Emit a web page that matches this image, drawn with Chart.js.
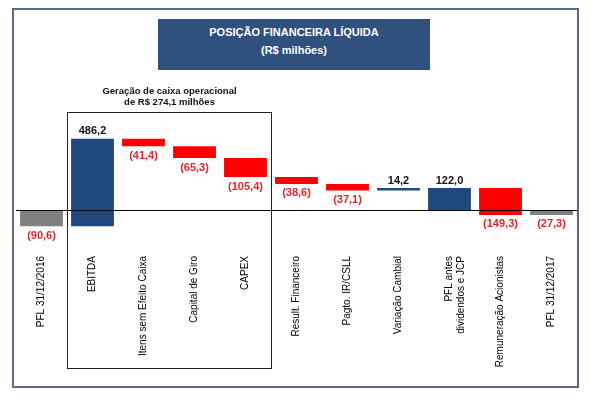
<!DOCTYPE html>
<html lang="pt-BR">
<head>
<meta charset="utf-8">
<title>Posição Financeira Líquida</title>
<script src="https://cdn.jsdelivr.net/npm/chart.js@4.4.1/dist/chart.umd.min.js"></script>
<style>
  html, body { margin: 0; padding: 0; background: #fff; }
  #wrap { position: relative; width: 590px; height: 399px; overflow: hidden; }
  #frame { position: absolute; left: 12px; top: 8px; width: 563px; height: 376px; border: 2px solid #5b6b87; }
  #title {
    position: absolute; left: 158px; top: 19px; width: 272px; height: 51px;
    background: #30507e; color: #fff; text-align: center;
    font: bold 11px "Liberation Sans", Arial, sans-serif;
    padding-top: 4px; box-sizing: border-box; line-height: 18px;
  }
  #chart { position: absolute; left: 0; top: 0; }
</style>
</head>
<body>
<div id="wrap">
  <div id="frame"></div>
  <div id="title">POSIÇÃO FINANCEIRA LÍQUIDA<br>(R$ milhões)</div>
  <canvas id="chart" width="590" height="399"></canvas>
</div>
<script>
// Waterfall of net financial position (R$ millions)
var categories = [
  'PFL 31/12/2016', 'EBITDA', 'Itens sem Efeito Caixa', 'Capital de Giro', 'CAPEX',
  'Result. Financeiro', 'Pagto. IR/CSLL', 'Variação Cambial',
  ['PFL antes', 'dividendos e JCP'], 'Remuneração Acionistas', 'PFL 31/12/2017'
];
var values = [-90.6, 486.2, -41.4, -65.3, -105.4, -38.6, -37.1, 14.2, 122.0, -149.3, -27.3];
var barKinds = ['total', 'up', 'down', 'down', 'down', 'down', 'down', 'up', 'subtotal', 'down', 'total'];
var boxedFrom = 1, boxedTo = 4;   // "geração de caixa" group
var boxNote = ['Geração de caixa operacional', 'de R$ 274,1 milhões'];

var kindColors = { total: '#808080', subtotal: '#1f497d', up: '#1f497d', down: '#ff0000' };
var FONT = '"Liberation Sans", Arial, sans-serif';

// floating [start, end] for each bar
var floats = [];
var running = 0;
values.forEach(function (v, i) {
  if (barKinds[i] === 'total' || barKinds[i] === 'subtotal') {
    floats.push([0, v]);
    running = v;
  } else {
    floats.push([running, running + v]);
    running += v;
  }
});

function fmt(v) {
  var s = Math.abs(v).toFixed(1).replace('.', ',');
  return v < 0 ? '(' + s + ')' : s;
}

var waterfallDecor = {
  id: 'waterfallDecor',
  afterDatasetsDraw: function (chart) {
    var ctx = chart.ctx;
    var x = chart.scales.x, y = chart.scales.y, area = chart.chartArea;
    var meta = chart.getDatasetMeta(0);
    ctx.save();

    // zero line, over the bars
    var y0 = Math.round(y.getPixelForValue(0)) + 0.5;
    ctx.strokeStyle = '#000';
    ctx.lineWidth = 1;
    ctx.beginPath();
    ctx.moveTo(area.left, y0);
    ctx.lineTo(area.right, y0);
    ctx.stroke();

    // value labels
    ctx.font = 'bold 11px ' + FONT;
    ctx.textAlign = 'center';
    meta.data.forEach(function (bar, i) {
      var v = values[i];
      var top = Math.min(bar.y, bar.base), bottom = Math.max(bar.y, bar.base);
      if (v >= 0) {
        ctx.fillStyle = '#111';
        ctx.textBaseline = 'bottom';
        ctx.fillText(fmt(v), bar.x, top - 2);
      } else {
        ctx.fillStyle = '#e0262d';
        ctx.textBaseline = 'top';
        ctx.fillText(fmt(v), bar.x, bottom + 4);
      }
    });

    // box round the operating cash group
    var left = (x.getPixelForValue(boxedFrom - 1) + x.getPixelForValue(boxedFrom)) / 2;
    var right = (x.getPixelForValue(boxedTo) + x.getPixelForValue(boxedTo + 1)) / 2;
    left = Math.round(left) + 0.5;
    right = Math.round(right) + 0.5;
    ctx.strokeStyle = '#222';
    ctx.strokeRect(left, 112.5, right - left, 256);

    ctx.fillStyle = '#111';
    ctx.font = 'bold 9.5px ' + FONT;
    ctx.textBaseline = 'middle';
    ctx.fillText(boxNote[0], (left + right) / 2, 91);
    ctx.fillText(boxNote[1], (left + right) / 2, 102);
    ctx.restore();
  }
};

new Chart(document.getElementById('chart').getContext('2d'), {
  type: 'bar',
  data: {
    labels: categories,
    datasets: [{
      data: floats,
      backgroundColor: barKinds.map(function (k) { return kindColors[k]; }),
      borderWidth: 0,
      barPercentage: 0.84,
      categoryPercentage: 1.0
    }]
  },
  options: {
    responsive: false,
    animation: false,
    layout: { padding: { top: 120, left: 16, right: 13, bottom: 0 } },
    scales: {
      x: {
        grid: { display: false, drawTicks: false },
        border: { display: false },
        ticks: {
          autoSkip: false,
          minRotation: 90,
          maxRotation: 90,
          padding: 6,
          color: '#000',
          font: { family: FONT, size: 10 }
        },
        afterFit: function (scale) { scale.height = 149; }
      },
      y: { display: false, min: -222, max: 500 }
    },
    plugins: {
      legend: { display: false },
      tooltip: { enabled: false }
    }
  },
  plugins: [waterfallDecor]
});
</script>
</body>
</html>
